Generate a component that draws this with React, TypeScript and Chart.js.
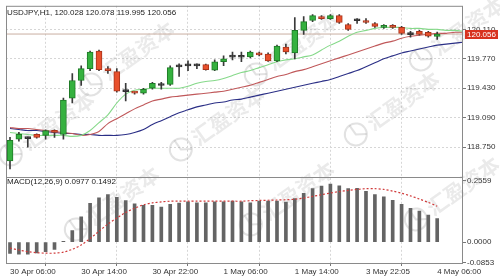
import React, { useEffect, useRef } from "react";
import { Chart, registerables } from "chart.js";

Chart.register(...registerables);

// ---- header texts ----
const symbolTitle = "USDJPY,H1";
const lastBarOHLC = [120.028, 120.078, 119.995, 120.056];
const macdTitle = "MACD(12,26,9)";
const macdLastValues = [0.0977, 0.1492];
const lastPrice = 120.056;

// ---- time axis ----
const timeTickIndex = [0, 8, 16, 24, 32, 40, 48];
const timeTickLabels = [
  "30 Apr 06:00",
  "30 Apr 14:00",
  "30 Apr 22:00",
  "1 May 06:00",
  "1 May 14:00",
  "3 May 22:05",
  "4 May 06:00",
];

// ---- price axis ----
const priceTicks = [118.75, 119.09, 119.43, 119.77, 120.11];
const priceMin = 118.41;
const priceMax = 120.382;
const macdTicks = [-0.0853, 0, 0.2559];
const macdMin = -0.0869;
const macdMax = 0.2722;

// ---- candles (H1) ----
const opens = [
  118.591, 118.841, 118.848, 118.897, 118.886, 118.942, 118.897, 119.317, 119.52, 119.656,
  119.86, 119.656, 119.622, 119.4, 119.385, 119.373, 119.43, 119.468, 119.475, 119.681,
  119.688, 119.692, 119.702, 119.64, 119.736, 119.79, 119.798, 119.792, 119.838, 119.826,
  119.747, 119.906, 119.838, 120.098, 120.212, 120.257, 120.234, 120.268, 120.166, 120.215,
  120.212, 120.178, 120.132, 120.155, 120.132, 120.055, 120.087, 120.076, 120.028,
];
const highs = [
  118.863, 118.92, 118.865, 118.905, 118.95, 118.95, 119.317, 119.6, 119.69, 119.86,
  119.872, 119.679, 119.656, 119.487, 119.39, 119.43, 119.498, 119.498, 119.69, 119.713,
  119.747, 119.713, 119.71, 119.758, 119.804, 119.849, 119.849, 119.86, 119.849, 119.838,
  119.928, 119.94, 120.246, 120.257, 120.28, 120.268, 120.28, 120.28, 120.178, 120.234,
  120.234, 120.189, 120.166, 120.166, 120.144, 120.087, 120.098, 120.087, 120.078,
];
const lows = [
  118.5, 118.818, 118.75, 118.855, 118.841, 118.863, 118.841, 119.26, 119.464, 119.634,
  119.634, 119.6, 119.385, 119.283, 119.362, 119.362, 119.419, 119.419, 119.464, 119.566,
  119.634, 119.656, 119.64, 119.634, 119.69, 119.758, 119.736, 119.781, 119.804, 119.74,
  119.736, 119.826, 119.77, 120.053, 120.2, 120.225, 120.225, 120.178, 120.098, 120.178,
  120.178, 120.132, 120.121, 120.121, 120.053, 120.019, 120.042, 120.019, 119.995,
];
const closes = [
  118.829, 118.897, 118.855, 118.863, 118.942, 118.92, 119.294, 119.52, 119.656, 119.849,
  119.645, 119.634, 119.396, 119.392, 119.373, 119.419, 119.487, 119.462, 119.668, 119.677,
  119.692, 119.688, 119.645, 119.736, 119.77, 119.795, 119.788, 119.849, 119.815, 119.747,
  119.917, 119.849, 120.098, 120.2, 120.268, 120.234, 120.268, 120.189, 120.11, 120.209,
  120.189, 120.144, 120.155, 120.132, 120.064, 120.05, 120.053, 120.03, 120.056,
];

// ---- moving averages (drawn shifted, so they run past the last bar) ----
const maFast = [
  118.92, 118.908, 118.897, 118.886, 118.886, 118.886, 118.886, 118.874, 118.886, 118.942,
  119.033, 119.124, 119.26, 119.362, 119.407, 119.419, 119.43, 119.43, 119.43, 119.43,
  119.453, 119.487, 119.509, 119.52, 119.543, 119.577, 119.611, 119.634, 119.668, 119.702,
  119.736, 119.758, 119.77, 119.792, 119.815, 119.872, 119.928, 119.974, 120.03, 120.076,
  120.098, 120.121, 120.132, 120.132, 120.132, 120.121, 120.121, 120.11, 120.11, 120.098,
  120.098, 120.087,
];
const maMid = [
  118.977, 118.965, 118.965, 118.954, 118.942, 118.931, 118.92, 118.908, 118.886, 118.897,
  118.931, 119.022, 119.079, 119.135, 119.192, 119.237, 119.283, 119.305, 119.328, 119.339,
  119.351, 119.362, 119.373, 119.385, 119.396, 119.419, 119.441, 119.464, 119.498, 119.532,
  119.566, 119.588, 119.622, 119.645, 119.679, 119.713, 119.747, 119.781, 119.815, 119.849,
  119.883, 119.917, 119.951, 119.974, 120.008, 120.03, 120.042, 120.053, 120.064, 120.064,
  120.076, 120.076,
];
const maSlow = [
  118.965, 118.954, 118.942, 118.942, 118.931, 118.92, 118.908, 118.908, 118.897, 118.897,
  118.886, 118.886, 118.886, 118.897, 118.92, 118.954, 119.011, 119.056, 119.101, 119.147,
  119.181, 119.215, 119.237, 119.26, 119.271, 119.294, 119.305, 119.328, 119.351, 119.373,
  119.396, 119.419, 119.441, 119.464, 119.487, 119.509, 119.532, 119.566, 119.6, 119.634,
  119.679, 119.724, 119.77, 119.804, 119.838, 119.86, 119.883, 119.906, 119.928, 119.94,
  119.951, 119.962,
];

// ---- MACD ----
const macdHist = [
  -0.047, -0.05, -0.05, -0.045, -0.04, -0.03, 0.003, 0.048, 0.105, 0.161,
  0.184, 0.197, 0.186, 0.173, 0.159, 0.153, 0.153, 0.146, 0.157, 0.162,
  0.167, 0.163, 0.163, 0.167, 0.167, 0.17, 0.167, 0.163, 0.17, 0.17,
  0.17, 0.166, 0.181, 0.203, 0.222, 0.233, 0.241, 0.234, 0.222, 0.224,
  0.211, 0.197, 0.188, 0.174, 0.157, 0.14, 0.129, 0.112, 0.0977,
];
const macdSignal = [
  -0.025, -0.033, -0.04, -0.044, -0.046, -0.046, -0.042, -0.03, -0.012, 0.015,
  0.045, 0.075, 0.1, 0.123, 0.141, 0.155, 0.163, 0.167, 0.17, 0.17,
  0.17, 0.17, 0.17, 0.17, 0.17, 0.17, 0.17, 0.172, 0.173, 0.174,
  0.175, 0.176, 0.178, 0.183, 0.19, 0.197, 0.204, 0.21, 0.215, 0.219,
  0.222, 0.222, 0.219, 0.212, 0.203, 0.192, 0.179, 0.165, 0.1492,
];

const xMin = -0.45;
const xMax = 50.9;

const FONT = '"Liberation Sans", Arial, sans-serif';

function drawWatermark(ctx: CanvasRenderingContext2D, x: number, y: number) {
  ctx.save();
  ctx.translate(x, y);
  ctx.rotate(-0.62);
  ctx.strokeStyle = "rgba(140,140,140,0.25)";
  ctx.lineWidth = 2;
  ctx.beginPath();
  ctx.arc(-42, 0, 11, 0, Math.PI * 2);
  ctx.stroke();
  ctx.beginPath();
  ctx.moveTo(-42, -11);
  ctx.lineTo(-42, 0);
  ctx.lineTo(-33, 6);
  ctx.stroke();
  ctx.font = 'bold 21px "Noto Sans CJK SC"';
  ctx.fillStyle = "rgba(150,150,150,0.2)";
  ctx.textBaseline = "middle";
  ctx.textAlign = "left";
  ctx.fillText("汇盈资本", -26, 0);
  ctx.restore();
}

const overlayPlugin = {
  id: "mt4overlay",
  beforeDatasetsDraw(chart: any) {
    const ctx = chart.ctx as CanvasRenderingContext2D;
    const spots = [
      [125, 60], [290, 50], [455, 35],
      [45, 130], [215, 125], [390, 110],
      [110, 205], [285, 200], [450, 195],
    ];
    spots.forEach(([x, y]) => drawWatermark(ctx, x, y));
  },
  afterDraw(chart: any) {
    const ctx = chart.ctx as CanvasRenderingContext2D;
    const ca = chart.chartArea;
    const y = chart.scales.y;
    const y2 = chart.scales.y2;
    ctx.save();
    // frame
    ctx.strokeStyle = "#8a8a8a";
    ctx.lineWidth = 1;
    ctx.strokeRect(ca.left + 0.5, ca.top + 0.5, ca.right - ca.left - 1, ca.bottom - ca.top);
    const sep = Math.round(y2.top) + 0.5;
    ctx.beginPath();
    ctx.moveTo(ca.left, sep);
    ctx.lineTo(ca.right, sep);
    ctx.stroke();
    // headers
    ctx.font = `8px ${FONT}`;
    ctx.fillStyle = "#222";
    ctx.textBaseline = "middle";
    ctx.textAlign = "left";
    ctx.fillText(
      `${symbolTitle}, ${lastBarOHLC.map((v) => v.toFixed(3)).join(" ")}`,
      ca.left + 1,
      ca.top + 7
    );
    ctx.fillText(
      `${macdTitle} ${macdLastValues.map((v) => v.toFixed(4)).join(" ")}`,
      ca.left + 1,
      y2.top + 5
    );
    // last price tag
    const py = y.getPixelForValue(lastPrice);
    ctx.fillStyle = "#d8321e";
    ctx.fillRect(ca.right + 2, Math.round(py) - 4, 33, 9);
    ctx.fillStyle = "#ffffff";
    ctx.fillText(lastPrice.toFixed(3), ca.right + 4, Math.round(py) + 0.5);
    ctx.restore();
  },
};

export default function App() {
  const ref = useRef<HTMLCanvasElement | null>(null);

  useEffect(() => {
    if (!ref.current) return;
    const idx = closes.map((_, i) => i);
    const isDoji = (i: number) => Math.abs(closes[i] - opens[i]) < 0.012;
    const bodyFill = idx.map((i) =>
      isDoji(i) ? "#333333" : closes[i] >= opens[i] ? "#35b13f" : "#e8502c"
    );
    const bodyBorder = idx.map((i) =>
      isDoji(i) ? "#333333" : closes[i] >= opens[i] ? "#1f7a27" : "#a8341c"
    );

    const chart = new Chart(ref.current, {
      type: "bar",
      data: {
        datasets: [
          {
            type: "line",
            data: [
              { x: xMin, y: lastPrice },
              { x: xMax, y: lastPrice },
            ],
            borderColor: "#c9aea2",
            borderWidth: 1,
            pointRadius: 0,
            yAxisID: "y",
            order: 50,
          } as any,
          {
            type: "line",
            data: maSlow.map((v, i) => ({ x: i, y: v })),
            borderColor: "#2b2f86",
            borderWidth: 1.1,
            pointRadius: 0,
            tension: 0.3,
            yAxisID: "y",
            order: 40,
          } as any,
          {
            type: "line",
            data: maMid.map((v, i) => ({ x: i, y: v })),
            borderColor: "#c0585a",
            borderWidth: 1.1,
            pointRadius: 0,
            tension: 0.3,
            yAxisID: "y",
            order: 39,
          } as any,
          {
            type: "line",
            data: maFast.map((v, i) => ({ x: i, y: v })),
            borderColor: "#86d98a",
            borderWidth: 1.1,
            pointRadius: 0,
            tension: 0.3,
            yAxisID: "y",
            order: 38,
          } as any,
          {
            type: "bar",
            data: idx.map((i) => ({ x: i, y: [lows[i], highs[i]] })),
            backgroundColor: "#3a3a3a",
            barThickness: 1,
            grouped: false,
            minBarLength: 1,
            yAxisID: "y",
            order: 20,
          } as any,
          {
            type: "bar",
            data: idx.map((i) => ({ x: i, y: [opens[i], closes[i]] })),
            backgroundColor: bodyFill,
            borderColor: bodyBorder,
            borderWidth: 1,
            borderSkipped: false,
            barThickness: 6,
            minBarLength: 2,
            grouped: false,
            yAxisID: "y",
            order: 10,
          } as any,
          {
            type: "bar",
            data: macdHist.map((v, i) => ({ x: i, y: v })),
            backgroundColor: "#646464",
            barThickness: 3,
            grouped: false,
            yAxisID: "y2",
            order: 20,
          } as any,
          {
            type: "line",
            data: macdSignal.map((v, i) => ({ x: i, y: v })),
            borderColor: "#d03a3a",
            borderWidth: 1.2,
            borderDash: [2, 2],
            pointRadius: 0,
            tension: 0.3,
            yAxisID: "y2",
            order: 5,
          } as any,
        ],
      },
      options: {
        responsive: false,
        animation: false,
        devicePixelRatio: 1,
        layout: { padding: { left: 6, top: 1, right: 0, bottom: 0 } },
        plugins: { legend: { display: false }, tooltip: { enabled: false } },
        scales: {
          x: {
            type: "linear",
            min: xMin,
            max: xMax,
            offset: false,
            afterFit: (s: any) => {
              s.height = 17;
            },
            afterBuildTicks: (s: any) => {
              s.ticks = timeTickIndex.map((v) => ({ value: v }));
            },
            ticks: {
              autoSkip: false,
              maxRotation: 0,
              align: "start",
              padding: 1,
              color: "#333",
              font: { size: 8, family: FONT },
              callback: (_v: any, i: number) => timeTickLabels[i],
            },
            grid: {
              color: "#d6d6d6",
              tickColor: "#777",
              tickLength: 3,
            },
            border: { display: false, dash: [2, 2] },
          },
          y: {
            type: "linear",
            position: "right",
            stack: "panels",
            stackWeight: 174,
            min: priceMin,
            max: priceMax,
            afterFit: (s: any) => {
              s.width = 37;
            },
            afterBuildTicks: (s: any) => {
              s.ticks = priceTicks.map((v) => ({ value: v }));
            },
            ticks: {
              autoSkip: false,
              padding: 1,
              color: "#333",
              font: { size: 8, family: FONT },
              callback: (v: any) => Number(v).toFixed(3),
            },
            grid: { color: "#d6d6d6", tickColor: "#777", tickLength: 3 },
            border: { display: false, dash: [2, 2] },
          },
          y2: {
            type: "linear",
            position: "right",
            stack: "panels",
            stackWeight: 88,
            min: macdMin,
            max: macdMax,
            afterFit: (s: any) => {
              s.width = 37;
            },
            afterBuildTicks: (s: any) => {
              s.ticks = macdTicks.map((v) => ({ value: v }));
            },
            ticks: {
              autoSkip: false,
              padding: 1,
              color: "#333",
              font: { size: 8, family: FONT },
              callback: (v: any) => Number(v).toFixed(4),
            },
            grid: { drawOnChartArea: false, tickColor: "#777", tickLength: 3 },
            border: { display: false },
          },
        },
      } as any,
      plugins: [overlayPlugin],
    });
    return () => chart.destroy();
  }, []);

  return (
    <div
      style={{
        position: "fixed",
        left: 0,
        top: 0,
        width: 500,
        height: 280,
        background: "#ffffff",
      }}
    >
      <canvas ref={ref} width={500} height={280} style={{ display: "block" }} />
    </div>
  );
}
